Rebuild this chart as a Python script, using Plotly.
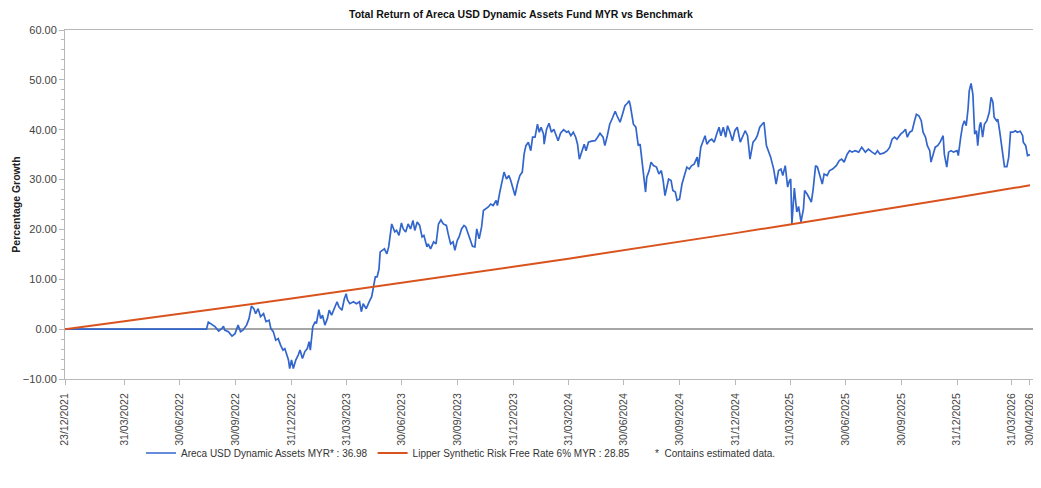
import plotly.graph_objects as go

# ---------------- data ----------------
fund_dates = [
    "2021-12-23", "2022-08-13", "2022-08-16", "2022-08-22", "2022-08-27", "2022-09-02", "2022-09-07",
    "2022-09-10", "2022-09-12", "2022-09-18", "2022-09-24", "2022-09-29", "2022-10-04", "2022-10-08",
    "2022-10-12", "2022-10-18", "2022-10-22", "2022-10-26", "2022-10-30", "2022-11-02", "2022-11-06",
    "2022-11-10", "2022-11-15", "2022-11-19", "2022-11-24", "2022-11-27", "2022-12-01", "2022-12-05",
    "2022-12-09", "2022-12-13", "2022-12-17", "2022-12-20", "2022-12-23", "2022-12-26", "2022-12-28",
    "2022-12-31", "2023-01-03", "2023-01-07", "2023-01-11", "2023-01-14", "2023-01-18", "2023-01-22",
    "2023-01-26", "2023-01-29", "2023-01-31", "2023-02-04", "2023-02-08", "2023-02-10", "2023-02-14",
    "2023-02-17", "2023-02-20", "2023-02-24", "2023-02-28", "2023-03-03", "2023-03-07", "2023-03-11",
    "2023-03-16", "2023-03-19", "2023-03-24", "2023-03-28", "2023-03-31", "2023-04-02", "2023-04-06",
    "2023-04-12", "2023-04-17", "2023-04-22", "2023-04-25", "2023-04-28", "2023-05-03", "2023-05-08",
    "2023-05-12", "2023-05-15", "2023-05-18", "2023-05-21", "2023-05-24", "2023-05-26", "2023-05-29",
    "2023-06-02", "2023-06-06", "2023-06-09", "2023-06-14", "2023-06-19", "2023-06-22", "2023-06-26",
    "2023-06-30", "2023-07-03", "2023-07-07", "2023-07-11", "2023-07-15", "2023-07-19", "2023-07-22",
    "2023-07-26", "2023-07-30", "2023-08-03", "2023-08-06", "2023-08-11", "2023-08-13", "2023-08-17",
    "2023-08-22", "2023-08-26", "2023-08-30", "2023-09-03", "2023-09-07", "2023-09-12", "2023-09-15",
    "2023-09-19", "2023-09-23", "2023-09-26", "2023-09-30", "2023-10-03", "2023-10-07", "2023-10-11",
    "2023-10-14", "2023-10-18", "2023-10-22", "2023-10-25", "2023-10-29", "2023-11-01", "2023-11-05",
    "2023-11-09", "2023-11-12", "2023-11-16", "2023-11-20", "2023-11-24", "2023-11-28", "2023-12-03",
    "2023-12-05", "2023-12-09", "2023-12-13", "2023-12-16", "2023-12-20", "2023-12-24", "2023-12-27",
    "2023-12-31", "2024-01-03", "2024-01-07", "2024-01-11", "2024-01-15", "2024-01-18", "2024-01-21",
    "2024-01-25", "2024-01-29", "2024-02-01", "2024-02-05", "2024-02-09", "2024-02-12", "2024-02-15",
    "2024-02-19", "2024-02-20", "2024-02-24", "2024-02-28", "2024-03-03", "2024-03-07", "2024-03-10",
    "2024-03-14", "2024-03-18", "2024-03-23", "2024-03-28", "2024-03-31", "2024-04-04", "2024-04-08",
    "2024-04-12", "2024-04-15", "2024-04-18", "2024-04-22", "2024-04-26", "2024-04-29", "2024-05-03",
    "2024-05-08", "2024-05-14", "2024-05-18", "2024-05-22", "2024-05-27", "2024-05-30", "2024-06-03",
    "2024-06-07", "2024-06-12", "2024-06-16", "2024-06-19", "2024-06-24", "2024-06-28", "2024-07-02",
    "2024-07-06", "2024-07-09", "2024-07-11", "2024-07-16", "2024-07-20", "2024-07-24", "2024-07-27",
    "2024-07-30", "2024-08-02", "2024-08-05", "2024-08-07", "2024-08-11", "2024-08-14", "2024-08-18",
    "2024-08-23", "2024-08-27", "2024-08-31", "2024-09-03", "2024-09-06", "2024-09-09", "2024-09-12",
    "2024-09-16", "2024-09-19", "2024-09-23", "2024-09-26", "2024-09-30", "2024-10-04", "2024-10-08",
    "2024-10-12", "2024-10-16", "2024-10-20", "2024-10-24", "2024-10-29", "2024-10-31", "2024-11-04",
    "2024-11-07", "2024-11-11", "2024-11-14", "2024-11-18", "2024-11-22", "2024-11-26", "2024-11-30",
    "2024-12-04", "2024-12-07", "2024-12-11", "2024-12-15", "2024-12-18", "2024-12-22", "2024-12-26",
    "2024-12-30", "2025-01-03", "2025-01-08", "2025-01-12", "2025-01-16", "2025-01-20", "2025-01-24",
    "2025-01-29", "2025-02-02", "2025-02-05", "2025-02-09", "2025-02-13", "2025-02-16", "2025-02-20",
    "2025-02-23", "2025-02-27", "2025-03-04", "2025-03-08", "2025-03-12", "2025-03-16", "2025-03-19",
    "2025-03-23", "2025-03-27", "2025-03-30", "2025-04-01", "2025-04-03", "2025-04-07", "2025-04-11",
    "2025-04-14", "2025-04-18", "2025-04-22", "2025-04-24", "2025-04-28", "2025-05-02", "2025-05-05",
    "2025-05-08", "2025-05-12", "2025-05-15", "2025-05-19", "2025-05-23", "2025-05-26", "2025-05-31",
    "2025-06-04", "2025-06-09", "2025-06-15", "2025-06-20", "2025-06-24", "2025-06-28", "2025-07-03",
    "2025-07-07", "2025-07-11", "2025-07-16", "2025-07-22", "2025-07-27", "2025-08-02", "2025-08-07",
    "2025-08-13", "2025-08-18", "2025-08-22", "2025-08-26", "2025-09-01", "2025-09-07", "2025-09-11",
    "2025-09-15", "2025-09-19", "2025-09-23", "2025-09-29", "2025-10-03", "2025-10-07", "2025-10-10",
    "2025-10-14", "2025-10-18", "2025-10-22", "2025-10-25", "2025-10-29", "2025-11-02", "2025-11-05",
    "2025-11-09", "2025-11-12", "2025-11-16", "2025-11-18", "2025-11-22", "2025-11-25", "2025-11-29",
    "2025-12-03", "2025-12-08", "2025-12-10", "2025-12-14", "2025-12-17", "2025-12-21", "2025-12-25",
    "2025-12-31", "2026-01-02", "2026-01-06", "2026-01-09", "2026-01-12", "2026-01-15", "2026-01-18",
    "2026-01-20", "2026-01-23", "2026-01-26", "2026-01-29", "2026-02-01", "2026-02-03", "2026-02-06",
    "2026-02-08", "2026-02-11", "2026-02-14", "2026-02-18", "2026-02-22", "2026-02-25", "2026-02-28",
    "2026-03-02", "2026-03-06", "2026-03-08", "2026-03-11", "2026-03-13", "2026-03-17", "2026-03-19",
    "2026-03-23", "2026-03-26", "2026-03-29", "2026-04-02", "2026-04-06", "2026-04-09", "2026-04-14",
    "2026-04-18", "2026-04-19", "2026-04-23", "2026-04-26", "2026-04-30",
]

fund_values = [
    0.0, 0.0, 1.4, 1.0, 0.5, -0.4, 0.1,
    0.6, -0.2, -0.5, -1.4, -0.9, 0.8, -0.5,
    -0.2, 0.8, 2.1, 4.6, 4.1, 3.1, 4.1,
    2.5, 3.1, 1.5, 1.8, 0.1, -0.5, -2.2,
    -1.9, -3.2, -4.2, -3.9, -5.2, -6.2, -7.9,
    -6.2, -7.9, -6.2, -5.2, -4.2, -5.9, -4.5,
    -3.9, -2.5, -4.2, 0.5, 1.5, 1.1, 3.9,
    2.1, 2.8, 0.8, 2.1, 3.8, 2.8, 4.1,
    5.5, 4.5, 3.8, 6.1, 7.1, 5.9, 5.1,
    5.5, 5.1, 5.5, 3.5, 5.1, 4.1, 5.5,
    6.5, 8.5, 10.5, 10.5, 12.0, 15.5, 15.8,
    16.1, 15.1, 16.5, 21.1, 19.5, 19.8, 18.8,
    21.3, 20.1, 19.5, 21.1, 20.1, 21.8, 19.8,
    21.5, 20.8, 18.5, 18.8, 16.5, 17.1, 16.1,
    17.5, 17.1, 21.1, 21.9, 21.1, 20.8, 19.1,
    17.1, 17.5, 15.8, 17.8, 18.5, 20.1, 20.8,
    20.5, 19.1, 18.1, 16.6, 16.5, 20.1, 18.1,
    20.5, 23.8, 24.1, 24.5, 25.1, 24.8, 25.8,
    24.8, 27.5, 30.1, 31.5, 30.1, 30.8, 29.8,
    28.1, 26.8, 29.1, 30.8, 31.5, 35.1, 36.8,
    37.5, 35.8, 38.5, 38.5, 41.1, 39.5, 40.5,
    39.1, 37.1, 40.1, 41.3, 39.5, 40.1, 39.1,
    37.8, 39.3, 40.0, 39.5, 39.7, 38.8, 39.5,
    38.5, 37.1, 34.1, 35.8, 37.1, 35.8, 37.5,
    37.7, 37.8, 38.5, 39.3, 38.5, 36.8, 38.8,
    41.1, 42.5, 43.7, 42.8, 41.5, 43.1, 44.8,
    45.3, 45.8, 44.8, 41.1, 40.5, 36.8, 37.1,
    33.8, 29.8, 27.5, 30.5, 31.8, 33.5, 32.8,
    32.5, 31.1, 31.8, 29.8, 26.8, 28.5, 30.1,
    29.8, 27.8, 27.5, 25.8, 26.1, 29.1, 30.8,
    32.5, 32.1, 32.8, 33.1, 34.5, 32.5, 36.5,
    37.5, 38.8, 37.1, 37.8, 38.1, 37.5, 39.1,
    40.5, 38.8, 40.5, 38.5, 40.8, 39.5, 37.8,
    39.8, 40.5, 37.5, 38.8, 39.8, 38.8, 34.1,
    37.5, 38.1, 38.8, 40.5, 41.1, 41.5, 36.8,
    35.8, 34.5, 32.1, 29.1, 31.8, 32.1, 30.8,
    32.8, 28.5, 29.8, 30.1, 21.1, 28.3, 23.5,
    24.6, 21.5, 24.1, 27.8, 27.1, 26.1, 25.5,
    28.1, 32.8, 32.5, 30.8, 29.1, 31.1, 30.8,
    31.8, 32.1, 32.8, 33.8, 34.1, 33.5, 35.1,
    35.8, 35.5, 35.8, 35.5, 36.5, 35.5, 36.1,
    35.5, 35.1, 35.8, 35.1, 35.3, 35.8, 36.5,
    38.1, 38.5, 38.1, 39.1, 39.5, 40.1, 38.5,
    39.5, 39.8, 41.8, 43.1, 42.8, 41.8, 39.5,
    38.5, 36.8, 35.8, 33.5, 35.5, 36.5, 36.8,
    37.5, 38.8, 35.1, 32.5, 35.5, 35.8, 35.5,
    35.8, 34.8, 38.5, 40.8, 41.8, 40.8, 44.1,
    47.8, 49.3, 47.1, 39.1, 39.8, 36.8, 40.8,
    41.5, 38.5, 41.1, 41.8, 43.5, 46.5, 45.5,
    42.5, 41.8, 42.1, 39.8, 37.8, 34.5, 32.6,
    32.6, 34.5, 39.5, 39.5, 39.8, 39.5, 39.7,
    38.8, 37.5, 36.8, 34.8, 35.0,
]

bench_dates = [
    "2021-12-23", "2022-03-31", "2022-06-30", "2022-09-30", "2022-12-31", "2023-03-31",
    "2023-06-30", "2023-09-30", "2023-12-31", "2024-03-31", "2024-06-30", "2024-09-30",
    "2024-12-31", "2025-03-31", "2025-06-30", "2025-09-30", "2025-12-31", "2026-03-31",
    "2026-04-30",
]
bench_values = [
    0.00, 1.57, 3.06, 4.59, 6.13, 7.67,
    9.24, 10.86, 12.50, 14.14, 15.81, 17.52,
    19.26, 20.99, 22.75, 24.57, 26.41, 28.24,
    28.85,
]

tick_dates = [
    "2021-12-23", "2022-03-31", "2022-06-30", "2022-09-30", "2022-12-31", "2023-03-31",
    "2023-06-30", "2023-09-30", "2023-12-31", "2024-03-31", "2024-06-30", "2024-09-30",
    "2024-12-31", "2025-03-31", "2025-06-30", "2025-09-30", "2025-12-31", "2026-03-31",
    "2026-04-30",
]
tick_labels = [
    "23/12/2021", "31/03/2022", "30/06/2022", "30/09/2022", "31/12/2022", "31/03/2023",
    "30/06/2023", "30/09/2023", "31/12/2023", "31/03/2024", "30/06/2024", "30/09/2024",
    "31/12/2024", "31/03/2025", "30/06/2025", "30/09/2025", "31/12/2025", "31/03/2026",
    "30/04/2026",
]

fund_name = "Areca USD Dynamic Assets MYR* : 36.98"
bench_name = "Lipper Synthetic Risk Free Rate 6% MYR : 28.85"
title_text = "Total Return of Areca USD Dynamic Assets Fund MYR vs Benchmark"
note_text = "*  Contains estimated data."

# ---------------- figure ----------------
# The page body has an 8px margin, so the figure is sized to fit the window.
FONT = "Liberation Sans, Arial, sans-serif"
AXIS_GRAY = "#b8b8b8"
OFF = 8
W, H = 1041 - OFF, 488 - OFF
ML, MR, MT, MB = 65 - OFF, 8, 30 - OFF, 109
PW = W - ML - MR
PH = H - MT - MB


def px_x(sx):
    return (sx - OFF - ML) / PW


def px_y(sy):
    return (MT + PH - (sy - OFF)) / PH


fig = go.Figure()
fig.add_trace(go.Scatter(
    x=fund_dates, y=fund_values, mode="lines", name=fund_name,
    line=dict(color="#3366cc", width=1.7),
))
fig.add_trace(go.Scatter(
    x=bench_dates, y=bench_values, mode="lines", name=bench_name,
    line=dict(color="#d9531e", width=2),
))

legend_y = px_y(453)

fig.update_layout(
    width=W, height=H,
    margin=dict(l=ML, r=MR, t=MT, b=MB, autoexpand=False),
    paper_bgcolor="white", plot_bgcolor="white",
    font=dict(family=FONT, size=10, color="#333333"),
    title=dict(text="<b>" + title_text + "</b>", x=(521 - OFF) / W, xref="container",
               xanchor="center", y=1 - (14 - OFF) / H, yref="container", yanchor="middle",
               font=dict(family=FONT, size=10.5, color="#111111")),
    showlegend=True,
    legend=dict(orientation="h", x=px_x(141), xanchor="left", y=legend_y, yanchor="middle",
                font=dict(family=FONT, size=10, color="#333333"), itemwidth=30,
                bgcolor="rgba(0,0,0,0)"),
)

fig.update_xaxes(
    type="date", range=["2021-12-23", "2026-05-05"], automargin=False,
    tickmode="array", tickvals=tick_dates, ticktext=tick_labels, tickangle=-90,
    ticks="outside", ticklen=5, tickcolor=AXIS_GRAY, ticklabelstandoff=4,
    tickfont=dict(family=FONT, size=10.5, color="#444444"),
    showgrid=False, zeroline=False,
    showline=True, linecolor=AXIS_GRAY, linewidth=1, mirror=True,
)
fig.update_yaxes(
    range=[-10, 60], dtick=10, tick0=0, tickformat=".2f", automargin=False,
    ticks="outside", ticklen=5, tickcolor=AXIS_GRAY,
    minor=dict(dtick=2, ticks="outside", ticklen=3, tickcolor=AXIS_GRAY),
    tickfont=dict(family=FONT, size=11, color="#444444"),
    showgrid=False, zeroline=True, zerolinecolor="#a6a6a6", zerolinewidth=1.5,
    showline=True, linecolor=AXIS_GRAY, linewidth=1, mirror=True,
    title=dict(text="<b>Percentage Growth</b>", standoff=0,
               font=dict(family=FONT, size=10.5, color="#222222")),
)

fig.add_annotation(
    text=note_text, xref="paper", yref="paper", x=px_x(777), y=legend_y,
    xanchor="right", yanchor="middle", showarrow=False,
    font=dict(family=FONT, size=10, color="#333333"),
)

fig.write_html("out.html")
